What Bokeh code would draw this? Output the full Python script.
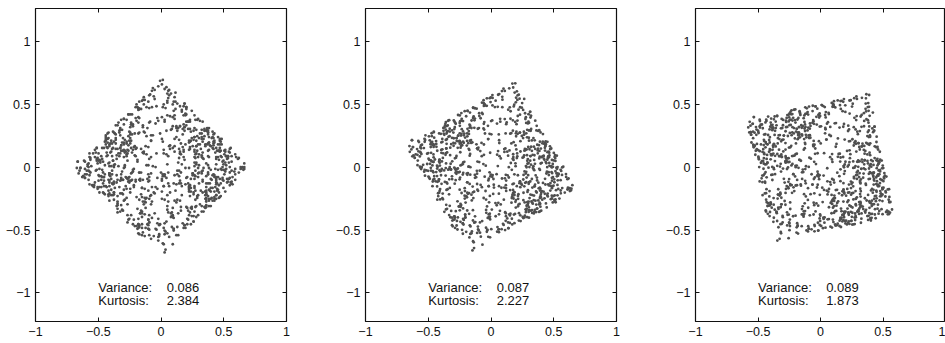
import numpy as np
from bokeh.plotting import figure
from bokeh.layouts import row
from bokeh.models import FixedTicker, LinearAxis, Range1d, ColumnDataSource
from bokeh.core.properties import value
from bokeh.embed import file_html
from bokeh.resources import INLINE

# Sample cloud (unrotated square), in units of 0.01
U = [
    12,-34,45,-7,23,-41,3,38,-19,29,-48,8,-26,41,-13,33,-2,17,-44,26,
    -31,6,49,-22,15,-9,36,-45,27,-3,43,-17,10,-38,31,-27,47,-12,1,-49,
    19,-40,34,-15,5,28,-33,46,-6,-24,14,40,-47,22,-11,37,-29,7,44,-20,
    -4,31,-37,24,-46,11,42,-18,2,-30,48,-8,20,-43,35,-1,16,-26,39,-14,
    27,-48,9,-21,46,-35,18,-10,32,-42,4,25,-16,45,-32,13,-5,38,-39,21,
    -13,40,-28,1,33,-44,7,49,-23,16,-36,29,-7,41,-19,3,-47,24,-2,36,
    44,-25,14,-39,26,-12,47,-33,8,37,-20,-45,17,2,-29,42,-9,30,-41,11,
    -36,22,-3,35,-48,19,-14,43,-27,6,28,-40,46,-17,9,-31,39,-6,15,-24,
    3,-43,31,-11,48,-26,24,-37,13,-1,41,-21,34,-49,20,-8,45,-34,10,-16,
    38,-18,-5,29,-40,12,-30,45,-12,23,-46,5,36,-24,47,-38,0,19,-28,32,
    -22,47,-42,17,-6,40,-35,9,30,-15,2,-44,26,-3,42,-19,11,-32,48,-10,
    15,-29,39,-47,21,-4,33,-23,44,-36,18,-9,-41,7,35,-14,28,-45,4,24,
    -46,10,-17,43,-32,27,-1,37,-25,14,-49,31,-11,46,-28,20,-7,40,-37,6,
    30,-8,48,-30,3,-20,16,-42,39,-13,25,-35,43,-2,12,-45,34,-18,22,-39,
    -11,36,-45,8,44,-27,29,-6,-38,19,-21,47,-14,32,-43,1,41,-25,13,-33,
    41,-3,20,-36,11,-48,38,-16,25,-29,5,37,-31,17,-10,45,-23,2,-40,28,
    -27,18,-9,46,-39,24,-19,33,-4,42,-34,13,-47,28,-15,6,-37,49,-20,9,
    7,-46,35,-14,27,-2,45,-28,18,-41,31,-7,21,-33,40,-12,26,-44,37,-5,
    -41,29,-24,4,-44,34,-13,14,-31,47,-18,40,-3,23,-35,15,-48,8,30,-26,
    23,-12,42,-33,16,-22,2,-39,46,10,-27,-5,38,-45,24,-1,34,-30,19,-47,
    -8,44,-49,25,-17,8,43,-24,35,-10,14,-43,48,-20,4,37,-16,27,-34,39,
    34,-37,11,-26,39,-15,22,-46,6,-32,45,-22,1,32,-41,18,-9,43,-13,3,
    -18,5,27,-43,1,46,-8,21,-34,39,-2,30,-38,12,-26,48,-31,10,-45,16,
    46,-21,-36,13,-29,31,-42,7,22,-4,36,-47,18,-11,43,-25,5,-39,25,-6,
    -2,33,-14,40,-45,19,-21,41,-9,28,-43,9,-28,44,-5,29,-36,15,-17,47,
    20,-44,37,-19,9,-34,26,-4,47,-25,12,-14,40,-37,27,-3,-46,32,-11,42,
    -33,13,-1,31,-12,43,-47,28,-20,3,35,-30,15,-8,39,-42,21,-15,46,-29,
    10,-15,44,-41,34,-6,12,-35,37,-48,20,-12,29,-47,7,33,-22,41,-30,1,
    -45,38,-30,19,-2,25,-39,47,-16,11,-37,42,-24,6,-14,30,-4,45,-27,17,
    29,-1,-22,48,-37,15,-11,36,-43,26,-7,21,-42,37,-30,10,44,-19,3,-36,
    -15,26,40,-12,28,-31,45,-9,14,-40,33,-26,8,-35,46,-21,18,-49,36,-7,
    5,-39,23,-46,42,-16,4,-31,48,-19,39,-1,-33,24,-8,44,-28,12,-42,30,
    47,-10,26,-42,-19,36,-27,11,-49,32,0,-35,18,43,-23,7,-14,39,-31,22,
    -40,17,-6,30,44,-21,9,-45,23,-2,38,-29,14,-11,49,-36,27,-18,5,-47,
    36,-25,-43,4,19,-8,41,-38,28,-14,-32,48,-4,25,-44,13,-27,33,-9,45,
    -17,43,8,-31,-46,27,-2,35,-20,44,-39,16,-24,3,31,-48,20,-7,40,-28,
    25,-47,33,-3,12,-26,46,-15,-35,8,29,-41,42,-19,-5,37,-33,14,-43,2,
    -5,34,-21,47,-36,6,-43,22,17,-28,-12,39,-46,28,10,-23,45,-37,26,-15,
    40,-33,2,-16,37,-44,15,-6,43,-39,21,-25,6,48,-30,-9,32,-20,-48,13,
    -29,9,-38,21,-11,47,-25,38,-1,-46,34,-3,-19,35,-40,24,-12,46,-22,-34,
    14,-20,45,-28,-49,20,-9,30,-42,16,-17,44,-36,11,-2,41,-45,4,33,-8,
    -44,28,-15,38,5,-33,39,-21,-8,45,-26,12,-48,22,-37,17,-3,36,-13,44,
    31,-6,19,-47,26,-17,-39,47,-28,4,42,-32,9,-16,46,-27,13,-41,-1,21,
    -21,48,-32,10,-38,3,25,-12,34,-45,7,-23,32,-42,18,-10,48,-26,41,-35,
    6,-36,41,-9,31,-40,-16,18,-33,40,-6,28,-45,15,-21,43,-30,1,-18,37,
    -37,15,-26,33,-14,42,-47,5,26,-19,47,-38,22,-1,35,-15,-42,29,-6,19,
    43,-27,7,-44,20,-3,34,-41,-11,24,-47,10,-29,40,-16,27,-39,16,44,-25,
    -9,21,-47,35,-24,12,-36,44,4,-37,15,-13,39,-30,1,-44,23,-2,-33,48,
]
V = [
    -38,21,-5,44,-29,11,-47,2,36,-16,27,-42,9,-23,48,-8,31,-35,14,-1,
    17,-44,33,-10,40,-27,6,-49,23,-3,46,-18,29,-36,12,-41,4,38,-22,30,
    -26,8,-48,35,-13,24,-31,45,-7,19,-39,1,43,-20,28,-45,15,-11,37,-33,
    42,-15,26,-37,3,47,-24,13,-46,32,-9,21,-30,39,-2,18,-43,10,-19,45,
    -12,36,-40,7,-21,29,-4,48,-34,16,-27,41,-6,-47,25,-14,33,-38,2,-25,
    31,-3,14,-42,46,-19,38,-28,9,-49,22,-11,34,-32,5,44,-16,27,-41,11,
    -45,27,-21,18,-6,40,-36,24,-14,47,-31,3,-24,37,-9,-28,41,-1,20,-48,
    6,-30,43,-17,28,-44,1,-10,39,-26,-40,15,-5,45,-37,23,-13,32,-46,36,
    -33,49,-8,26,-15,10,-42,34,-22,42,-4,-35,19,-12,46,-29,7,-43,28,14,
    24,-11,37,-45,12,-25,45,-7,30,-38,17,-48,3,27,-18,39,-32,-2,44,-20,
    -1,41,-34,4,-43,33,-17,20,-47,9,36,-23,47,-9,-30,13,-39,25,-5,34,
    39,-22,11,-29,48,-6,-38,30,-12,2,-44,28,-16,40,-26,8,46,-34,18,-13,
    -19,4,-46,29,-35,15,35,-41,13,-24,38,-2,-28,21,-42,44,-8,10,-31,47,
    13,-37,22,40,-18,-47,7,-25,46,-14,29,-39,16,-6,37,-21,-45,31,-3,24,
    -42,33,-3,-20,23,-33,43,-15,2,47,-29,10,-44,25,-10,35,-24,5,41,-37,
    28,-7,45,-49,8,36,-13,41,-36,20,-2,-26,42,-40,16,-3,30,-47,12,-17,
    -6,19,-39,38,-24,2,-45,12,26,-32,44,-10,23,-18,-48,31,-14,47,-27,6,
    45,-26,30,-8,-41,17,-20,37,-3,-43,14,46,-34,8,-22,26,-37,4,-12,40,
    -27,11,-14,48,-31,-5,25,-36,40,-19,5,-46,32,-1,43,-16,20,-29,-49,18,
    8,-48,34,-23,15,43,-29,-2,18,-40,31,-13,-7,44,-35,21,-9,38,-18,27,
    -36,26,-1,-34,37,-12,20,-42,9,34,-21,41,-38,13,-27,5,45,-23,31,-8,
    21,-14,47,-4,-27,30,-49,16,-32,25,-7,38,-19,-44,19,-36,2,-15,42,-30,
    -10,39,-25,14,-37,6,33,-18,45,-28,11,-33,28,-47,4,-11,36,-40,23,1,
    35,-34,18,-46,25,-8,-21,40,-42,5,-17,33,-3,30,-45,12,-26,42,-6,-39,
    -47,7,40,-13,-2,44,-33,9,-19,27,-48,20,-10,35,-39,16,-22,-5,29,48,
    0,-20,-31,21,-44,12,39,-27,6,-9,32,-43,24,-24,47,-41,18,-35,3,-16,
    16,45,-18,-39,33,-22,10,-48,29,-12,43,-6,-31,20,-15,37,-4,26,-46,35,
    -23,-1,28,-27,41,-40,23,-14,-35,38,-25,1,48,-11,-42,9,-33,-20,15,-44,
    44,-43,-11,31,-16,5,-37,19,37,-45,8,-30,12,-49,34,-2,24,-13,46,-21,
    -31,15,6,-44,20,-26,48,-33,1,-15,45,-40,27,-5,9,-47,-19,40,-28,-10,
    9,-29,-42,33,-9,38,-12,27,-23,-37,-1,26,-45,17,-30,42,-7,-24,21,43,
    -15,46,17,-21,10,-35,-46,3,-28,41,-18,-48,37,-33,24,-4,14,46,-39,6,
    19,-44,-27,36,4,-13,28,-38,42,-21,11,33,-46,-2,24,-30,47,-16,7,-40,
    40,-9,25,-48,-15,33,-35,13,-24,48,-31,5,-40,29,-18,21,-5,43,-36,1,
    -28,46,12,-23,-41,35,-7,27,-45,-10,39,-17,30,-33,8,-48,42,-3,17,-26,
    3,-31,41,-14,24,-42,18,-2,36,-26,45,-39,-11,20,-47,38,-21,9,-35,29,
    44,-18,-36,26,-7,31,-29,46,-13,39,-2,-44,15,-31,35,-9,23,-41,5,-20,
    -21,32,-10,-38,17,-26,49,-30,7,-47,28,-6,38,-19,-42,12,-33,26,-12,41,
    10,-40,34,-29,-3,22,-49,8,-16,30,-35,46,-24,2,37,-45,-12,20,-27,33,
    -46,25,-17,43,-33,-4,14,-22,47,-11,-37,24,-43,9,26,-14,-48,31,-1,18,
    29,-6,-45,16,-25,45,-12,-43,21,-34,40,-27,7,-38,43,-23,28,-36,12,-47,
    -14,38,22,-33,10,-20,32,-46,-4,41,-15,-30,26,-39,14,-49,3,-25,45,-8,
    36,-47,4,27,-39,14,-25,38,-11,-32,19,47,-20,31,-6,-41,22,-28,44,-16,
    -3,14,-31,-45,34,-37,8,-19,46,-8,-43,36,-29,11,-24,40,-34,-9,-17,27,
    47,-22,16,-12,-44,41,-20,31,-38,3,27,-14,37,-46,20,-31,-3,48,-25,9,
    -32,5,-8,23,-1,-36,46,-28,15,-45,-11,42,-17,33,-41,-23,38,-6,30,-43,
    15,-39,31,-19,44,-5,-34,23,-26,48,-21,2,-33,-13,43,-10,29,-30,-44,10,
    -41,27,-2,-37,9,39,-15,-47,33,-24,13,-35,48,-27,-7,35,-46,18,-29,22,
]
ROTATION_DEG = [45, 30, 12]
VARIANCE = ["0.086", "0.087", "0.089"]
KURTOSIS = ["2.384", "2.227", "1.873"]
STAT_NAMES = ["Variance:", "Kurtosis:"]
TICKS = [-1, -0.5, 0, 0.5, 1]
TICK_LABELS = ["\u22121", "\u22120.5", "0", "0.5", "1"]
UNIT = 0.0102

FONT = "Liberation Sans"
n = min(len(U), len(V))
u = np.array(U[:n], dtype=float) * UNIT
v = np.array(V[:n], dtype=float) * UNIT


def style_axis(ax, labels=True):
    ax.ticker = FixedTicker(ticks=TICKS)
    ax.major_tick_in = 4
    ax.major_tick_out = 0
    ax.minor_tick_in = 0
    ax.minor_tick_out = 0
    ax.axis_line_color = None
    ax.major_tick_line_color = "#111111"
    ax.major_tick_line_width = 1
    if labels:
        ax.major_label_overrides = dict(zip(TICKS, TICK_LABELS))
        ax.major_label_text_font = FONT
        ax.major_label_text_font_size = "12.5px"
        ax.major_label_text_color = "#111111"
        ax.major_label_standoff = 5
    else:
        # tick marks only: labels are not painted at all
        ax.major_label_text_color = None
        ax.major_label_text_alpha = 0
        ax.major_label_text_font_size = "1px"
        ax.major_label_standoff = 0


figs = []
for i, ang in enumerate(ROTATION_DEG):
    last = i == len(ROTATION_DEG) - 1
    t = np.deg2rad(ang)
    x = u * np.cos(t) - v * np.sin(t)
    y = u * np.sin(t) + v * np.cos(t)
    p = figure(
        width=285 if last else 330, height=343,
        x_range=Range1d(-1, 1), y_range=Range1d(-1.227, 1.26),
        output_backend="svg", toolbar_location=None, tools="",
        min_border_left=35, min_border_right=0 if last else 44,
        min_border_top=8, min_border_bottom=22,
    )
    p.xgrid.grid_line_color = None
    p.ygrid.grid_line_color = None
    p.outline_line_color = "#111111"
    p.outline_line_width = 1.2
    p.background_fill_color = "white"
    p.border_fill_color = "white"
    style_axis(p.xaxis[0])
    style_axis(p.yaxis[0])
    top = LinearAxis()
    style_axis(top, labels=False)
    p.add_layout(top, "above")
    right = LinearAxis()
    style_axis(right, labels=False)
    p.add_layout(right, "right")

    src = ColumnDataSource(dict(x=x, y=y))
    p.scatter("x", "y", source=src, size=2.8, fill_color="#4f4f4f", line_color=None)

    p.text(x=[-0.5, -0.5], y=[-0.958, -1.064], text=STAT_NAMES,
           text_font=value(FONT), text_font_size="13px", text_color="#111111",
           text_align="left", text_baseline="alphabetic")
    p.text(x=[0.045, 0.045], y=[-0.958, -1.064], text=[VARIANCE[i], KURTOSIS[i]],
           text_font=value(FONT), text_font_size="13px", text_color="#111111",
           text_align="left", text_baseline="alphabetic")
    figs.append(p)

layout = row(*figs, spacing=0)
open("out.html", "w").write(file_html(layout, INLINE))
